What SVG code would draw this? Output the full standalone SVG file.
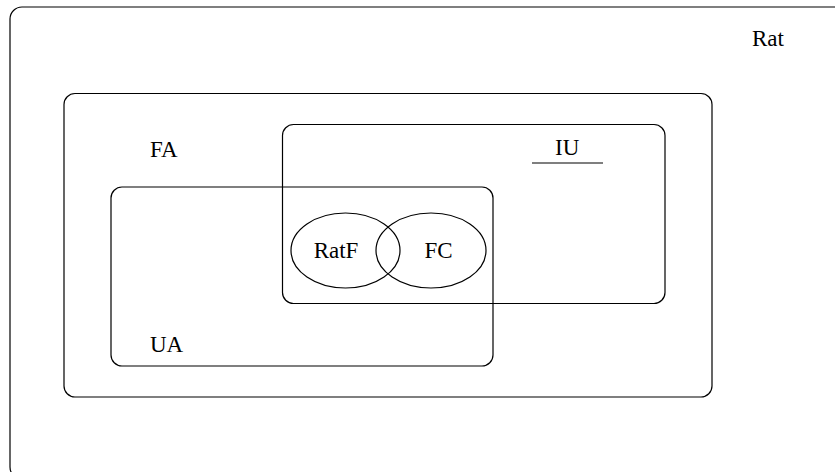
<svg xmlns="http://www.w3.org/2000/svg" width="835" height="472" viewBox="0 0 835 472">
<style>
.box{fill:none;stroke:#000;stroke-width:1.2}
.lbl{font-family:"Liberation Serif","Times New Roman",serif;font-size:23px;fill:#000}
.mid{text-anchor:middle}
</style>
<rect width="835" height="472" fill="#fff"/>
<g id="Rat">
<rect class="box" x="10" y="7" width="860" height="472" rx="12"/>
<text class="lbl" x="752" y="46">Rat</text>
</g>
<g id="FA">
<rect class="box" x="64" y="93.5" width="648" height="303.5" rx="11"/>
<text class="lbl" x="150" y="157">FA</text>
</g>
<g id="IU">
<rect class="box" x="282.5" y="124.5" width="382.5" height="179" rx="11"/>
<text class="lbl" x="555" y="155">IU</text>
<line class="box" x1="532" y1="163" x2="603" y2="163"/>
</g>
<g id="UA">
<rect class="box" x="111" y="187" width="382" height="179" rx="11"/>
<text class="lbl" x="150" y="352">UA</text>
</g>
<g id="RatF">
<ellipse class="box" cx="345.5" cy="250.5" rx="54.5" ry="37.5"/>
<text class="lbl mid" x="336" y="258">RatF</text>
</g>
<g id="FC">
<ellipse class="box" cx="431" cy="250.5" rx="55" ry="37.5"/>
<text class="lbl mid" x="438.5" y="258">FC</text>
</g>
<g id="connectors"></g>
</svg>
